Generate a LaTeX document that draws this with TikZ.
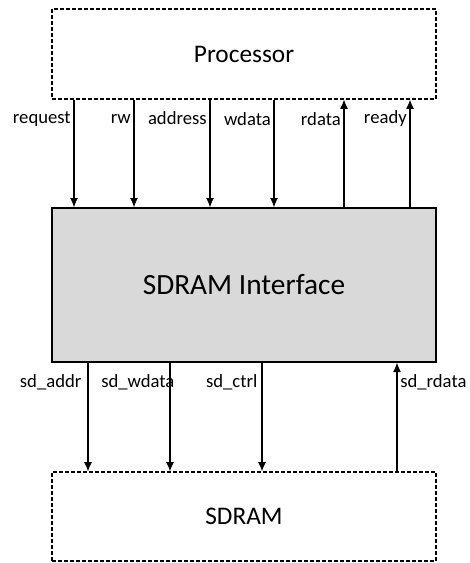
\documentclass[tikz,border=0pt]{standalone}
\usepackage{fontspec}
\setmainfont{Carlito}
\usetikzlibrary{arrows.meta,positioning}
\definecolor{ifgray}{HTML}{D9D9D9}
\tikzset{blk/.style={draw, minimum width=288pt, inner sep=0pt}}
\tikzstyle{ext}=[blk, dash pattern=on 3pt off 1.5pt, line width=0.9pt, minimum height=67.5pt, font=\fontsize{19}{23}\selectfont]
\tikzstyle{sig}=[font=\fontsize{14}{17}\selectfont, inner sep=2pt]

\begin{document}
\begin{tikzpicture}[x=0.75pt, y=-0.75pt, >={Latex[length=7pt,width=6pt]}, line width=0.9pt]
\useasboundingbox (0,0) rectangle (469,563);
\node[ext] (proc) at (244,54) {Processor};
\node[blk, fill=ifgray, line width=1pt, minimum height=115.5pt, font=\fontsize{22}{26}\selectfont] (iface) at (244,285) {SDRAM Interface};
\node[ext, minimum height=66.75pt] (sdram) at (244,516.5) {SDRAM};
% processor side
\coordinate (req) at (74,0);
\coordinate (rw) at (134,0);
\coordinate (addr) at (210,0);
\coordinate (wdat) at (274,0);
\coordinate (rdat) at (344,0);
\coordinate (rdy) at (410,0);
\draw[->] (req |- proc.south) -- node[sig, left, pos=0.18]{request} (req |- iface.north);
\draw[->] (rw |- proc.south) -- node[sig, left, pos=0.18]{rw} (rw |- iface.north);
\draw[->] (addr |- proc.south) -- node[sig, left, pos=0.17]{address} (addr |- iface.north);
\draw[->] (wdat |- proc.south) -- node[sig, left, pos=0.18]{wdata} (wdat |- iface.north);
\draw[->] (rdat |- iface.north) -- node[sig, left, pos=0.82]{rdata} (rdat |- proc.south);
\draw[->] (rdy |- iface.north) -- node[sig, left, pos=0.82]{ready} (rdy |- proc.south);
% sdram side
\coordinate (sdaddr) at (88,0);
\coordinate (sdwdat) at (170,0);
\coordinate (sdctrl) at (262,0);
\coordinate (sdrdat) at (397,0);
\draw[->] (sdaddr |- iface.south) -- node[sig, left, pos=0.18, xshift=-2.5pt]{sd\_addr} (sdaddr |- sdram.north);
\draw[->] (sdwdat |- iface.south) -- node[sig, anchor=east, pos=0.18, xshift=5.75pt]{sd\_wdata} (sdwdat |- sdram.north);
\draw[->] (sdctrl |- iface.south) -- node[sig, left, pos=0.18, xshift=-1pt]{sd\_ctrl} (sdctrl |- sdram.north);
\draw[->] (sdrdat |- sdram.north) -- node[sig, right, pos=0.82]{sd\_rdata} (sdrdat |- iface.south);
\end{tikzpicture}
\end{document}
